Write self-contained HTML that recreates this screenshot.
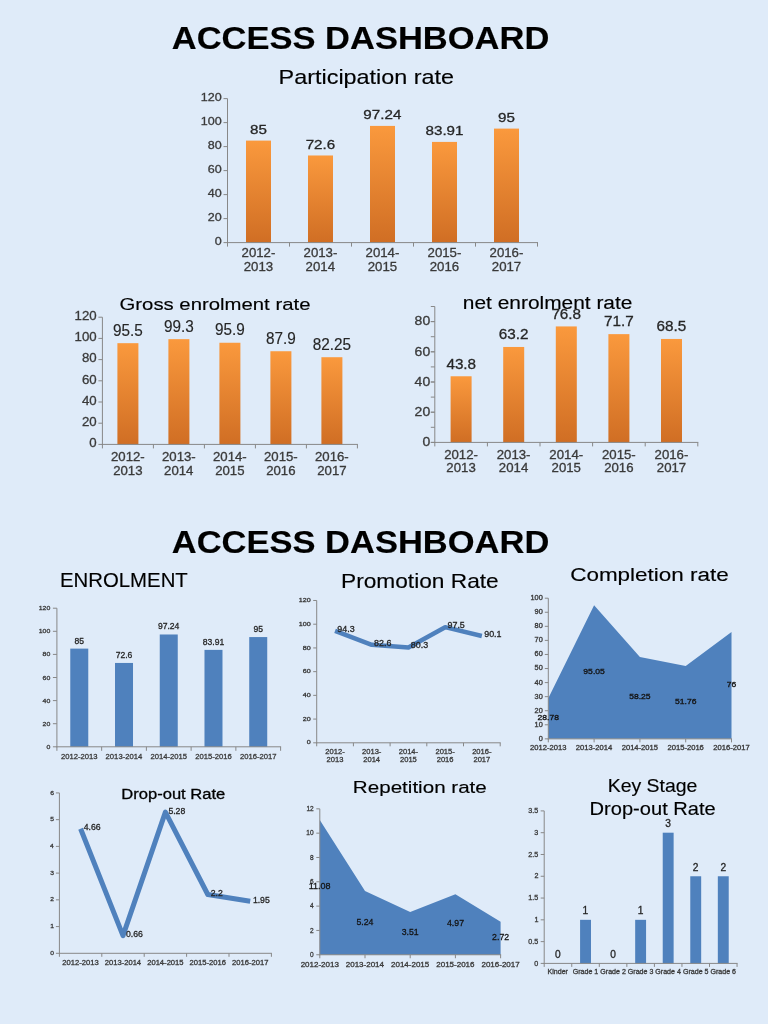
<!DOCTYPE html>
<html><head><meta charset="utf-8"><title>Access Dashboard</title>
<style>
html,body{margin:0;padding:0;}
body{width:768px;height:1024px;overflow:hidden;background:#dfebf9;font-family:"Liberation Sans", sans-serif;}
svg{position:absolute;left:0;top:0;will-change:transform;}
svg text{font-family:"Liberation Sans", sans-serif;}
</style></head><body>
<svg width="768" height="1024" viewBox="0 0 768 1024">
<defs><linearGradient id="og" x1="0" y1="0" x2="0" y2="1"><stop offset="0" stop-color="#fa993d"/><stop offset="1" stop-color="#d06e24"/></linearGradient></defs>
<text x="171.79" y="49.35" font-size="30.93" font-weight="bold" fill="#000" stroke="#000" stroke-width="0.15" textLength="377.51" lengthAdjust="spacingAndGlyphs">ACCESS DASHBOARD</text>
<text x="171.79" y="552.85" font-size="30.93" font-weight="bold" fill="#000" stroke="#000" stroke-width="0.15" textLength="377.51" lengthAdjust="spacingAndGlyphs">ACCESS DASHBOARD</text>
<text x="278.63" y="83.80" font-size="20.49" fill="#000" stroke="#000" stroke-width="0.15" textLength="175.46" lengthAdjust="spacingAndGlyphs">Participation rate</text>
<text x="119.53" y="310.00" font-size="17.15" fill="#000" stroke="#000" stroke-width="0.15" textLength="190.93" lengthAdjust="spacingAndGlyphs">Gross enrolment rate</text>
<text x="462.86" y="309.30" font-size="18.35" fill="#000" stroke="#000" stroke-width="0.15" textLength="169.52" lengthAdjust="spacingAndGlyphs">net enrolment rate</text>
<text x="59.93" y="586.70" font-size="19.77" fill="#000" stroke="#000" stroke-width="0.15" textLength="127.89" lengthAdjust="spacingAndGlyphs">ENROLMENT</text>
<text x="340.99" y="587.70" font-size="20.49" fill="#000" stroke="#000" stroke-width="0.15" textLength="157.77" lengthAdjust="spacingAndGlyphs">Promotion Rate</text>
<text x="570.21" y="580.60" font-size="18.46" fill="#000" stroke="#000" stroke-width="0.15" textLength="158.54" lengthAdjust="spacingAndGlyphs">Completion rate</text>
<text x="121.29" y="798.50" font-size="15.26" fill="#000" stroke="#000" stroke-width="0.30" textLength="103.99" lengthAdjust="spacingAndGlyphs">Drop-out Rate</text>
<text x="352.86" y="793.10" font-size="17.01" fill="#000" stroke="#000" stroke-width="0.15" textLength="133.95" lengthAdjust="spacingAndGlyphs">Repetition rate</text>
<text x="607.76" y="792.30" font-size="17.59" fill="#000" stroke="#000" stroke-width="0.15" textLength="89.66" lengthAdjust="spacingAndGlyphs">Key Stage</text>
<text x="589.60" y="814.50" font-size="17.44" fill="#000" stroke="#000" stroke-width="0.15" textLength="126.14" lengthAdjust="spacingAndGlyphs">Drop-out Rate</text>
<rect x="246.00" y="140.60" width="25.00" height="102.00" fill="url(#og)"/>
<rect x="308.00" y="155.48" width="25.00" height="87.12" fill="url(#og)"/>
<rect x="370.00" y="125.91" width="25.00" height="116.69" fill="url(#og)"/>
<rect x="432.00" y="141.91" width="25.00" height="100.69" fill="url(#og)"/>
<rect x="494.00" y="128.60" width="25.00" height="114.00" fill="url(#og)"/>
<rect x="227.00" y="98.60" width="1" height="144.50" fill="#888888"/>
<rect x="223.50" y="242.10" width="4.00" height="1" fill="#888888"/>
<text x="214.66" y="244.95" font-size="11.60" fill="#3a3a3a" stroke="#3a3a3a" stroke-width="0.30" textLength="6.98" lengthAdjust="spacingAndGlyphs">0</text>
<rect x="223.50" y="218.10" width="4.00" height="1" fill="#888888"/>
<text x="207.68" y="220.95" font-size="11.60" fill="#3a3a3a" stroke="#3a3a3a" stroke-width="0.30" textLength="13.96" lengthAdjust="spacingAndGlyphs">20</text>
<rect x="223.50" y="194.10" width="4.00" height="1" fill="#888888"/>
<text x="207.68" y="196.95" font-size="11.60" fill="#3a3a3a" stroke="#3a3a3a" stroke-width="0.30" textLength="13.96" lengthAdjust="spacingAndGlyphs">40</text>
<rect x="223.50" y="170.10" width="4.00" height="1" fill="#888888"/>
<text x="207.68" y="172.95" font-size="11.60" fill="#3a3a3a" stroke="#3a3a3a" stroke-width="0.30" textLength="13.96" lengthAdjust="spacingAndGlyphs">60</text>
<rect x="223.50" y="146.10" width="4.00" height="1" fill="#888888"/>
<text x="207.68" y="148.95" font-size="11.60" fill="#3a3a3a" stroke="#3a3a3a" stroke-width="0.30" textLength="13.96" lengthAdjust="spacingAndGlyphs">80</text>
<rect x="223.50" y="122.10" width="4.00" height="1" fill="#888888"/>
<text x="200.69" y="124.95" font-size="11.60" fill="#3a3a3a" stroke="#3a3a3a" stroke-width="0.30" textLength="20.95" lengthAdjust="spacingAndGlyphs">100</text>
<rect x="223.50" y="98.10" width="4.00" height="1" fill="#888888"/>
<text x="200.69" y="100.95" font-size="11.60" fill="#3a3a3a" stroke="#3a3a3a" stroke-width="0.30" textLength="20.95" lengthAdjust="spacingAndGlyphs">120</text>
<rect x="227.00" y="242.10" width="311.00" height="1" fill="#888888"/>
<rect x="227.00" y="242.60" width="1" height="4.00" fill="#888888"/>
<rect x="289.00" y="242.60" width="1" height="4.00" fill="#888888"/>
<rect x="351.00" y="242.60" width="1" height="4.00" fill="#888888"/>
<rect x="413.00" y="242.60" width="1" height="4.00" fill="#888888"/>
<rect x="475.00" y="242.60" width="1" height="4.00" fill="#888888"/>
<rect x="537.00" y="242.60" width="1" height="4.00" fill="#888888"/>
<text x="250.05" y="133.75" font-size="12.89" fill="#262626" stroke="#262626" stroke-width="0.30" textLength="16.87" lengthAdjust="spacingAndGlyphs">85</text>
<text x="241.53" y="256.95" font-size="12.32" fill="#3a3a3a" stroke="#3a3a3a" stroke-width="0.30" textLength="33.86" lengthAdjust="spacingAndGlyphs">2012-</text>
<text x="243.73" y="271.25" font-size="12.32" fill="#3a3a3a" stroke="#3a3a3a" stroke-width="0.30" textLength="29.45" lengthAdjust="spacingAndGlyphs">2013</text>
<text x="305.68" y="148.63" font-size="12.89" fill="#262626" stroke="#262626" stroke-width="0.30" textLength="29.52" lengthAdjust="spacingAndGlyphs">72.6</text>
<text x="303.53" y="256.95" font-size="12.32" fill="#3a3a3a" stroke="#3a3a3a" stroke-width="0.30" textLength="33.86" lengthAdjust="spacingAndGlyphs">2013-</text>
<text x="305.64" y="271.25" font-size="12.32" fill="#3a3a3a" stroke="#3a3a3a" stroke-width="0.30" textLength="29.45" lengthAdjust="spacingAndGlyphs">2014</text>
<text x="363.39" y="119.06" font-size="12.89" fill="#262626" stroke="#262626" stroke-width="0.30" textLength="37.96" lengthAdjust="spacingAndGlyphs">97.24</text>
<text x="365.53" y="256.95" font-size="12.32" fill="#3a3a3a" stroke="#3a3a3a" stroke-width="0.30" textLength="33.86" lengthAdjust="spacingAndGlyphs">2014-</text>
<text x="367.72" y="271.25" font-size="12.32" fill="#3a3a3a" stroke="#3a3a3a" stroke-width="0.30" textLength="29.45" lengthAdjust="spacingAndGlyphs">2015</text>
<text x="425.56" y="135.06" font-size="12.89" fill="#262626" stroke="#262626" stroke-width="0.30" textLength="37.96" lengthAdjust="spacingAndGlyphs">83.91</text>
<text x="427.53" y="256.95" font-size="12.32" fill="#3a3a3a" stroke="#3a3a3a" stroke-width="0.30" textLength="33.86" lengthAdjust="spacingAndGlyphs">2015-</text>
<text x="429.73" y="271.25" font-size="12.32" fill="#3a3a3a" stroke="#3a3a3a" stroke-width="0.30" textLength="29.45" lengthAdjust="spacingAndGlyphs">2016</text>
<text x="498.03" y="121.75" font-size="12.89" fill="#262626" stroke="#262626" stroke-width="0.30" textLength="16.87" lengthAdjust="spacingAndGlyphs">95</text>
<text x="489.53" y="256.95" font-size="12.32" fill="#3a3a3a" stroke="#3a3a3a" stroke-width="0.30" textLength="33.86" lengthAdjust="spacingAndGlyphs">2016-</text>
<text x="491.78" y="271.25" font-size="12.32" fill="#3a3a3a" stroke="#3a3a3a" stroke-width="0.30" textLength="29.45" lengthAdjust="spacingAndGlyphs">2017</text>
<rect x="117.40" y="343.17" width="21.00" height="101.23" fill="url(#og)"/>
<rect x="168.40" y="339.14" width="21.00" height="105.26" fill="url(#og)"/>
<rect x="219.40" y="342.75" width="21.00" height="101.65" fill="url(#og)"/>
<rect x="270.40" y="351.23" width="21.00" height="93.17" fill="url(#og)"/>
<rect x="321.40" y="357.21" width="21.00" height="87.19" fill="url(#og)"/>
<rect x="101.90" y="317.20" width="1" height="127.70" fill="#888888"/>
<rect x="98.40" y="443.90" width="4.00" height="1" fill="#888888"/>
<text x="89.29" y="447.25" font-size="12.75" fill="#3a3a3a" stroke="#3a3a3a" stroke-width="0.30" textLength="7.38" lengthAdjust="spacingAndGlyphs">0</text>
<rect x="98.40" y="422.70" width="4.00" height="1" fill="#888888"/>
<text x="81.92" y="426.05" font-size="12.75" fill="#3a3a3a" stroke="#3a3a3a" stroke-width="0.30" textLength="14.75" lengthAdjust="spacingAndGlyphs">20</text>
<rect x="98.40" y="401.50" width="4.00" height="1" fill="#888888"/>
<text x="81.92" y="404.85" font-size="12.75" fill="#3a3a3a" stroke="#3a3a3a" stroke-width="0.30" textLength="14.75" lengthAdjust="spacingAndGlyphs">40</text>
<rect x="98.40" y="380.30" width="4.00" height="1" fill="#888888"/>
<text x="81.92" y="383.65" font-size="12.75" fill="#3a3a3a" stroke="#3a3a3a" stroke-width="0.30" textLength="14.75" lengthAdjust="spacingAndGlyphs">60</text>
<rect x="98.40" y="359.10" width="4.00" height="1" fill="#888888"/>
<text x="81.92" y="362.45" font-size="12.75" fill="#3a3a3a" stroke="#3a3a3a" stroke-width="0.30" textLength="14.75" lengthAdjust="spacingAndGlyphs">80</text>
<rect x="98.40" y="337.90" width="4.00" height="1" fill="#888888"/>
<text x="74.54" y="341.25" font-size="12.75" fill="#3a3a3a" stroke="#3a3a3a" stroke-width="0.30" textLength="22.13" lengthAdjust="spacingAndGlyphs">100</text>
<rect x="98.40" y="316.70" width="4.00" height="1" fill="#888888"/>
<text x="74.54" y="320.05" font-size="12.75" fill="#3a3a3a" stroke="#3a3a3a" stroke-width="0.30" textLength="22.13" lengthAdjust="spacingAndGlyphs">120</text>
<rect x="101.90" y="443.90" width="256.00" height="1" fill="#888888"/>
<rect x="101.90" y="444.40" width="1" height="4.00" fill="#888888"/>
<rect x="152.90" y="444.40" width="1" height="4.00" fill="#888888"/>
<rect x="203.90" y="444.40" width="1" height="4.00" fill="#888888"/>
<rect x="254.90" y="444.40" width="1" height="4.00" fill="#888888"/>
<rect x="305.90" y="444.40" width="1" height="4.00" fill="#888888"/>
<rect x="356.90" y="444.40" width="1" height="4.00" fill="#888888"/>
<text x="112.97" y="335.72" font-size="16.33" fill="#262626" stroke="#262626" stroke-width="0.15" textLength="29.79" lengthAdjust="spacingAndGlyphs">95.5</text>
<text x="110.99" y="460.65" font-size="12.03" fill="#3a3a3a" stroke="#3a3a3a" stroke-width="0.30" textLength="33.74" lengthAdjust="spacingAndGlyphs">2012-</text>
<text x="113.19" y="474.55" font-size="12.03" fill="#3a3a3a" stroke="#3a3a3a" stroke-width="0.30" textLength="29.34" lengthAdjust="spacingAndGlyphs">2013</text>
<text x="163.98" y="331.69" font-size="16.33" fill="#262626" stroke="#262626" stroke-width="0.15" textLength="29.79" lengthAdjust="spacingAndGlyphs">99.3</text>
<text x="161.99" y="460.65" font-size="12.03" fill="#3a3a3a" stroke="#3a3a3a" stroke-width="0.30" textLength="33.74" lengthAdjust="spacingAndGlyphs">2013-</text>
<text x="164.09" y="474.55" font-size="12.03" fill="#3a3a3a" stroke="#3a3a3a" stroke-width="0.30" textLength="29.34" lengthAdjust="spacingAndGlyphs">2014</text>
<text x="215.01" y="335.30" font-size="16.33" fill="#262626" stroke="#262626" stroke-width="0.15" textLength="29.79" lengthAdjust="spacingAndGlyphs">95.9</text>
<text x="212.99" y="460.65" font-size="12.03" fill="#3a3a3a" stroke="#3a3a3a" stroke-width="0.30" textLength="33.74" lengthAdjust="spacingAndGlyphs">2014-</text>
<text x="215.17" y="474.55" font-size="12.03" fill="#3a3a3a" stroke="#3a3a3a" stroke-width="0.30" textLength="29.34" lengthAdjust="spacingAndGlyphs">2015</text>
<text x="266.03" y="343.78" font-size="16.33" fill="#262626" stroke="#262626" stroke-width="0.15" textLength="29.79" lengthAdjust="spacingAndGlyphs">87.9</text>
<text x="263.99" y="460.65" font-size="12.03" fill="#3a3a3a" stroke="#3a3a3a" stroke-width="0.30" textLength="33.74" lengthAdjust="spacingAndGlyphs">2015-</text>
<text x="266.19" y="474.55" font-size="12.03" fill="#3a3a3a" stroke="#3a3a3a" stroke-width="0.30" textLength="29.34" lengthAdjust="spacingAndGlyphs">2016</text>
<text x="312.73" y="349.76" font-size="16.33" fill="#262626" stroke="#262626" stroke-width="0.15" textLength="38.31" lengthAdjust="spacingAndGlyphs">82.25</text>
<text x="314.99" y="460.65" font-size="12.03" fill="#3a3a3a" stroke="#3a3a3a" stroke-width="0.30" textLength="33.74" lengthAdjust="spacingAndGlyphs">2016-</text>
<text x="317.23" y="474.55" font-size="12.03" fill="#3a3a3a" stroke="#3a3a3a" stroke-width="0.30" textLength="29.34" lengthAdjust="spacingAndGlyphs">2017</text>
<rect x="450.60" y="376.26" width="21.00" height="66.14" fill="url(#og)"/>
<rect x="503.20" y="346.97" width="21.00" height="95.43" fill="url(#og)"/>
<rect x="555.80" y="326.43" width="21.00" height="115.97" fill="url(#og)"/>
<rect x="608.40" y="334.13" width="21.00" height="108.27" fill="url(#og)"/>
<rect x="661.00" y="338.96" width="21.00" height="103.44" fill="url(#og)"/>
<rect x="434.30" y="306.50" width="1" height="136.40" fill="#888888"/>
<rect x="430.80" y="441.90" width="4.00" height="1" fill="#888888"/>
<text x="422.42" y="446.15" font-size="12.60" fill="#3a3a3a" stroke="#3a3a3a" stroke-width="0.30" textLength="7.78" lengthAdjust="spacingAndGlyphs">0</text>
<rect x="430.80" y="411.70" width="4.00" height="1" fill="#888888"/>
<text x="414.64" y="415.95" font-size="12.60" fill="#3a3a3a" stroke="#3a3a3a" stroke-width="0.30" textLength="15.55" lengthAdjust="spacingAndGlyphs">20</text>
<rect x="430.80" y="381.50" width="4.00" height="1" fill="#888888"/>
<text x="414.64" y="385.75" font-size="12.60" fill="#3a3a3a" stroke="#3a3a3a" stroke-width="0.30" textLength="15.55" lengthAdjust="spacingAndGlyphs">40</text>
<rect x="430.80" y="351.30" width="4.00" height="1" fill="#888888"/>
<text x="414.64" y="355.55" font-size="12.60" fill="#3a3a3a" stroke="#3a3a3a" stroke-width="0.30" textLength="15.55" lengthAdjust="spacingAndGlyphs">60</text>
<rect x="430.80" y="321.10" width="4.00" height="1" fill="#888888"/>
<text x="414.64" y="325.35" font-size="12.60" fill="#3a3a3a" stroke="#3a3a3a" stroke-width="0.30" textLength="15.55" lengthAdjust="spacingAndGlyphs">80</text>
<rect x="430.80" y="441.90" width="4.00" height="1" fill="#888888"/>
<rect x="430.80" y="426.80" width="4.00" height="1" fill="#888888"/>
<rect x="430.80" y="411.70" width="4.00" height="1" fill="#888888"/>
<rect x="430.80" y="396.60" width="4.00" height="1" fill="#888888"/>
<rect x="430.80" y="381.50" width="4.00" height="1" fill="#888888"/>
<rect x="430.80" y="366.40" width="4.00" height="1" fill="#888888"/>
<rect x="430.80" y="351.30" width="4.00" height="1" fill="#888888"/>
<rect x="430.80" y="336.20" width="4.00" height="1" fill="#888888"/>
<rect x="430.80" y="321.10" width="4.00" height="1" fill="#888888"/>
<rect x="430.80" y="306.00" width="4.00" height="1" fill="#888888"/>
<rect x="434.30" y="441.90" width="264.00" height="1" fill="#888888"/>
<rect x="434.30" y="442.40" width="1" height="4.00" fill="#888888"/>
<rect x="486.90" y="442.40" width="1" height="4.00" fill="#888888"/>
<rect x="539.50" y="442.40" width="1" height="4.00" fill="#888888"/>
<rect x="592.10" y="442.40" width="1" height="4.00" fill="#888888"/>
<rect x="644.70" y="442.40" width="1" height="4.00" fill="#888888"/>
<rect x="697.30" y="442.40" width="1" height="4.00" fill="#888888"/>
<text x="446.40" y="368.61" font-size="15.18" fill="#262626" stroke="#262626" stroke-width="0.30" textLength="29.71" lengthAdjust="spacingAndGlyphs">43.8</text>
<text x="444.19" y="458.65" font-size="12.03" fill="#3a3a3a" stroke="#3a3a3a" stroke-width="0.30" textLength="33.74" lengthAdjust="spacingAndGlyphs">2012-</text>
<text x="446.39" y="472.15" font-size="12.03" fill="#3a3a3a" stroke="#3a3a3a" stroke-width="0.30" textLength="29.34" lengthAdjust="spacingAndGlyphs">2013</text>
<text x="498.84" y="339.32" font-size="15.18" fill="#262626" stroke="#262626" stroke-width="0.30" textLength="29.71" lengthAdjust="spacingAndGlyphs">63.2</text>
<text x="496.79" y="458.65" font-size="12.03" fill="#3a3a3a" stroke="#3a3a3a" stroke-width="0.30" textLength="33.74" lengthAdjust="spacingAndGlyphs">2013-</text>
<text x="498.89" y="472.15" font-size="12.03" fill="#3a3a3a" stroke="#3a3a3a" stroke-width="0.30" textLength="29.34" lengthAdjust="spacingAndGlyphs">2014</text>
<text x="551.38" y="318.78" font-size="15.18" fill="#262626" stroke="#262626" stroke-width="0.30" textLength="29.71" lengthAdjust="spacingAndGlyphs">76.8</text>
<text x="549.39" y="458.65" font-size="12.03" fill="#3a3a3a" stroke="#3a3a3a" stroke-width="0.30" textLength="33.74" lengthAdjust="spacingAndGlyphs">2014-</text>
<text x="551.57" y="472.15" font-size="12.03" fill="#3a3a3a" stroke="#3a3a3a" stroke-width="0.30" textLength="29.34" lengthAdjust="spacingAndGlyphs">2015</text>
<text x="604.04" y="326.48" font-size="15.18" fill="#262626" stroke="#262626" stroke-width="0.30" textLength="29.71" lengthAdjust="spacingAndGlyphs">71.7</text>
<text x="601.99" y="458.65" font-size="12.03" fill="#3a3a3a" stroke="#3a3a3a" stroke-width="0.30" textLength="33.74" lengthAdjust="spacingAndGlyphs">2015-</text>
<text x="604.19" y="472.15" font-size="12.03" fill="#3a3a3a" stroke="#3a3a3a" stroke-width="0.30" textLength="29.34" lengthAdjust="spacingAndGlyphs">2016</text>
<text x="656.58" y="331.31" font-size="15.18" fill="#262626" stroke="#262626" stroke-width="0.30" textLength="29.71" lengthAdjust="spacingAndGlyphs">68.5</text>
<text x="654.59" y="458.65" font-size="12.03" fill="#3a3a3a" stroke="#3a3a3a" stroke-width="0.30" textLength="33.74" lengthAdjust="spacingAndGlyphs">2016-</text>
<text x="656.83" y="472.15" font-size="12.03" fill="#3a3a3a" stroke="#3a3a3a" stroke-width="0.30" textLength="29.34" lengthAdjust="spacingAndGlyphs">2017</text>
<rect x="70.27" y="648.62" width="18.00" height="98.17" fill="#4f81bd"/>
<rect x="115.01" y="662.95" width="18.00" height="83.85" fill="#4f81bd"/>
<rect x="159.75" y="634.49" width="18.00" height="112.31" fill="#4f81bd"/>
<rect x="204.49" y="649.88" width="18.00" height="96.92" fill="#4f81bd"/>
<rect x="249.23" y="637.07" width="18.00" height="109.73" fill="#4f81bd"/>
<rect x="56.40" y="608.20" width="1" height="139.10" fill="#888888"/>
<rect x="52.90" y="746.30" width="4.00" height="1" fill="#888888"/>
<text x="46.45" y="748.85" font-size="6.02" fill="#3a3a3a" stroke="#3a3a3a" stroke-width="0.30" textLength="3.87" lengthAdjust="spacingAndGlyphs">0</text>
<rect x="52.90" y="723.20" width="4.00" height="1" fill="#888888"/>
<text x="42.59" y="725.75" font-size="6.02" fill="#3a3a3a" stroke="#3a3a3a" stroke-width="0.30" textLength="7.73" lengthAdjust="spacingAndGlyphs">20</text>
<rect x="52.90" y="700.10" width="4.00" height="1" fill="#888888"/>
<text x="42.59" y="702.65" font-size="6.02" fill="#3a3a3a" stroke="#3a3a3a" stroke-width="0.30" textLength="7.73" lengthAdjust="spacingAndGlyphs">40</text>
<rect x="52.90" y="677.00" width="4.00" height="1" fill="#888888"/>
<text x="42.59" y="679.55" font-size="6.02" fill="#3a3a3a" stroke="#3a3a3a" stroke-width="0.30" textLength="7.73" lengthAdjust="spacingAndGlyphs">60</text>
<rect x="52.90" y="653.90" width="4.00" height="1" fill="#888888"/>
<text x="42.59" y="656.45" font-size="6.02" fill="#3a3a3a" stroke="#3a3a3a" stroke-width="0.30" textLength="7.73" lengthAdjust="spacingAndGlyphs">80</text>
<rect x="52.90" y="630.80" width="4.00" height="1" fill="#888888"/>
<text x="38.72" y="633.35" font-size="6.02" fill="#3a3a3a" stroke="#3a3a3a" stroke-width="0.30" textLength="11.60" lengthAdjust="spacingAndGlyphs">100</text>
<rect x="52.90" y="607.70" width="4.00" height="1" fill="#888888"/>
<text x="38.72" y="610.25" font-size="6.02" fill="#3a3a3a" stroke="#3a3a3a" stroke-width="0.30" textLength="11.60" lengthAdjust="spacingAndGlyphs">120</text>
<rect x="56.40" y="746.30" width="224.70" height="1" fill="#888888"/>
<rect x="56.40" y="746.80" width="1" height="4.00" fill="#888888"/>
<rect x="101.14" y="746.80" width="1" height="4.00" fill="#888888"/>
<rect x="145.88" y="746.80" width="1" height="4.00" fill="#888888"/>
<rect x="190.62" y="746.80" width="1" height="4.00" fill="#888888"/>
<rect x="235.36" y="746.80" width="1" height="4.00" fill="#888888"/>
<rect x="280.10" y="746.80" width="1" height="4.00" fill="#888888"/>
<text x="74.50" y="643.62" font-size="9.31" fill="#262626" stroke="#262626" stroke-width="0.30" textLength="9.54" lengthAdjust="spacingAndGlyphs">85</text>
<text x="60.93" y="758.55" font-size="8.02" fill="#3a3a3a" stroke="#3a3a3a" stroke-width="0.30" textLength="36.62" lengthAdjust="spacingAndGlyphs">2012-2013</text>
<text x="115.64" y="657.95" font-size="9.31" fill="#262626" stroke="#262626" stroke-width="0.30" textLength="16.69" lengthAdjust="spacingAndGlyphs">72.6</text>
<text x="105.62" y="758.55" font-size="8.02" fill="#3a3a3a" stroke="#3a3a3a" stroke-width="0.30" textLength="36.62" lengthAdjust="spacingAndGlyphs">2013-2014</text>
<text x="157.95" y="629.49" font-size="9.31" fill="#262626" stroke="#262626" stroke-width="0.30" textLength="21.45" lengthAdjust="spacingAndGlyphs">97.24</text>
<text x="150.41" y="758.55" font-size="8.02" fill="#3a3a3a" stroke="#3a3a3a" stroke-width="0.30" textLength="36.62" lengthAdjust="spacingAndGlyphs">2014-2015</text>
<text x="202.79" y="644.88" font-size="9.31" fill="#262626" stroke="#262626" stroke-width="0.30" textLength="21.45" lengthAdjust="spacingAndGlyphs">83.91</text>
<text x="195.15" y="758.55" font-size="8.02" fill="#3a3a3a" stroke="#3a3a3a" stroke-width="0.30" textLength="36.62" lengthAdjust="spacingAndGlyphs">2015-2016</text>
<text x="253.44" y="632.07" font-size="9.31" fill="#262626" stroke="#262626" stroke-width="0.30" textLength="9.54" lengthAdjust="spacingAndGlyphs">95</text>
<text x="239.92" y="758.55" font-size="8.02" fill="#3a3a3a" stroke="#3a3a3a" stroke-width="0.30" textLength="36.62" lengthAdjust="spacingAndGlyphs">2016-2017</text>
<rect x="580.08" y="919.83" width="10.90" height="43.57" fill="#4f81bd"/>
<rect x="635.17" y="919.83" width="10.90" height="43.57" fill="#4f81bd"/>
<rect x="662.73" y="832.69" width="10.90" height="130.71" fill="#4f81bd"/>
<rect x="690.27" y="876.26" width="10.90" height="87.14" fill="#4f81bd"/>
<rect x="717.83" y="876.26" width="10.90" height="87.14" fill="#4f81bd"/>
<rect x="543.70" y="810.90" width="1" height="153.00" fill="#888888"/>
<rect x="540.70" y="962.90" width="3.50" height="1" fill="#888888"/>
<text x="534.34" y="965.55" font-size="7.02" fill="#3a3a3a" stroke="#3a3a3a" stroke-width="0.30" textLength="3.99" lengthAdjust="spacingAndGlyphs">0</text>
<rect x="540.70" y="941.12" width="3.50" height="1" fill="#888888"/>
<text x="528.38" y="943.76" font-size="7.02" fill="#3a3a3a" stroke="#3a3a3a" stroke-width="0.30" textLength="9.97" lengthAdjust="spacingAndGlyphs">0.5</text>
<rect x="540.70" y="919.33" width="3.50" height="1" fill="#888888"/>
<text x="534.41" y="921.98" font-size="7.02" fill="#3a3a3a" stroke="#3a3a3a" stroke-width="0.30" textLength="3.99" lengthAdjust="spacingAndGlyphs">1</text>
<rect x="540.70" y="897.54" width="3.50" height="1" fill="#888888"/>
<text x="528.38" y="900.19" font-size="7.02" fill="#3a3a3a" stroke="#3a3a3a" stroke-width="0.30" textLength="9.97" lengthAdjust="spacingAndGlyphs">1.5</text>
<rect x="540.70" y="875.76" width="3.50" height="1" fill="#888888"/>
<text x="534.42" y="878.41" font-size="7.02" fill="#3a3a3a" stroke="#3a3a3a" stroke-width="0.30" textLength="3.99" lengthAdjust="spacingAndGlyphs">2</text>
<rect x="540.70" y="853.98" width="3.50" height="1" fill="#888888"/>
<text x="528.38" y="856.62" font-size="7.02" fill="#3a3a3a" stroke="#3a3a3a" stroke-width="0.30" textLength="9.97" lengthAdjust="spacingAndGlyphs">2.5</text>
<rect x="540.70" y="832.19" width="3.50" height="1" fill="#888888"/>
<text x="534.37" y="834.84" font-size="7.02" fill="#3a3a3a" stroke="#3a3a3a" stroke-width="0.30" textLength="3.99" lengthAdjust="spacingAndGlyphs">3</text>
<rect x="540.70" y="810.40" width="3.50" height="1" fill="#888888"/>
<text x="528.38" y="813.05" font-size="7.02" fill="#3a3a3a" stroke="#3a3a3a" stroke-width="0.30" textLength="9.97" lengthAdjust="spacingAndGlyphs">3.5</text>
<rect x="543.70" y="962.90" width="193.85" height="1" fill="#888888"/>
<rect x="543.70" y="963.40" width="1" height="3.50" fill="#888888"/>
<rect x="571.25" y="963.40" width="1" height="3.50" fill="#888888"/>
<rect x="598.80" y="963.40" width="1" height="3.50" fill="#888888"/>
<rect x="626.35" y="963.40" width="1" height="3.50" fill="#888888"/>
<rect x="653.90" y="963.40" width="1" height="3.50" fill="#888888"/>
<rect x="681.45" y="963.40" width="1" height="3.50" fill="#888888"/>
<rect x="709.00" y="963.40" width="1" height="3.50" fill="#888888"/>
<rect x="736.55" y="963.40" width="1" height="3.50" fill="#888888"/>
<text x="555.14" y="957.90" font-size="10.17" fill="#262626" stroke="#262626" stroke-width="0.30" textLength="5.68" lengthAdjust="spacingAndGlyphs">0</text>
<text x="547.54" y="974.45" font-size="6.76" fill="#3a3a3a" stroke="#3a3a3a" stroke-width="0.30" textLength="20.40" lengthAdjust="spacingAndGlyphs">Kinder</text>
<text x="582.55" y="914.33" font-size="10.17" fill="#262626" stroke="#262626" stroke-width="0.30" textLength="5.68" lengthAdjust="spacingAndGlyphs">1</text>
<text x="572.77" y="974.45" font-size="6.76" fill="#3a3a3a" stroke="#3a3a3a" stroke-width="0.30" textLength="25.50" lengthAdjust="spacingAndGlyphs">Grade 1</text>
<text x="610.24" y="957.90" font-size="10.17" fill="#262626" stroke="#262626" stroke-width="0.30" textLength="5.68" lengthAdjust="spacingAndGlyphs">0</text>
<text x="600.33" y="974.45" font-size="6.76" fill="#3a3a3a" stroke="#3a3a3a" stroke-width="0.30" textLength="25.50" lengthAdjust="spacingAndGlyphs">Grade 2</text>
<text x="637.65" y="914.33" font-size="10.17" fill="#262626" stroke="#262626" stroke-width="0.30" textLength="5.68" lengthAdjust="spacingAndGlyphs">1</text>
<text x="627.85" y="974.45" font-size="6.76" fill="#3a3a3a" stroke="#3a3a3a" stroke-width="0.30" textLength="25.50" lengthAdjust="spacingAndGlyphs">Grade 3</text>
<text x="665.37" y="827.19" font-size="10.17" fill="#262626" stroke="#262626" stroke-width="0.30" textLength="5.68" lengthAdjust="spacingAndGlyphs">3</text>
<text x="655.35" y="974.45" font-size="6.76" fill="#3a3a3a" stroke="#3a3a3a" stroke-width="0.30" textLength="25.50" lengthAdjust="spacingAndGlyphs">Grade 4</text>
<text x="692.89" y="870.76" font-size="10.17" fill="#262626" stroke="#262626" stroke-width="0.30" textLength="5.68" lengthAdjust="spacingAndGlyphs">2</text>
<text x="682.95" y="974.45" font-size="6.76" fill="#3a3a3a" stroke="#3a3a3a" stroke-width="0.30" textLength="25.50" lengthAdjust="spacingAndGlyphs">Grade 5</text>
<text x="720.44" y="870.76" font-size="10.17" fill="#262626" stroke="#262626" stroke-width="0.30" textLength="5.68" lengthAdjust="spacingAndGlyphs">2</text>
<text x="710.50" y="974.45" font-size="6.76" fill="#3a3a3a" stroke="#3a3a3a" stroke-width="0.30" textLength="25.50" lengthAdjust="spacingAndGlyphs">Grade 6</text>
<rect x="316.20" y="600.48" width="1" height="142.82" fill="#888888"/>
<rect x="313.20" y="742.30" width="3.50" height="1" fill="#888888"/>
<text x="306.65" y="744.45" font-size="5.59" fill="#3a3a3a" stroke="#3a3a3a" stroke-width="0.30" textLength="3.97" lengthAdjust="spacingAndGlyphs">0</text>
<rect x="313.20" y="718.58" width="3.50" height="1" fill="#888888"/>
<text x="302.68" y="720.73" font-size="5.59" fill="#3a3a3a" stroke="#3a3a3a" stroke-width="0.30" textLength="7.95" lengthAdjust="spacingAndGlyphs">20</text>
<rect x="313.20" y="694.86" width="3.50" height="1" fill="#888888"/>
<text x="302.68" y="697.01" font-size="5.59" fill="#3a3a3a" stroke="#3a3a3a" stroke-width="0.30" textLength="7.95" lengthAdjust="spacingAndGlyphs">40</text>
<rect x="313.20" y="671.14" width="3.50" height="1" fill="#888888"/>
<text x="302.68" y="673.29" font-size="5.59" fill="#3a3a3a" stroke="#3a3a3a" stroke-width="0.30" textLength="7.95" lengthAdjust="spacingAndGlyphs">60</text>
<rect x="313.20" y="647.42" width="3.50" height="1" fill="#888888"/>
<text x="302.68" y="649.57" font-size="5.59" fill="#3a3a3a" stroke="#3a3a3a" stroke-width="0.30" textLength="7.95" lengthAdjust="spacingAndGlyphs">80</text>
<rect x="313.20" y="623.70" width="3.50" height="1" fill="#888888"/>
<text x="298.71" y="625.85" font-size="5.59" fill="#3a3a3a" stroke="#3a3a3a" stroke-width="0.30" textLength="11.92" lengthAdjust="spacingAndGlyphs">100</text>
<rect x="313.20" y="599.98" width="3.50" height="1" fill="#888888"/>
<text x="298.71" y="602.13" font-size="5.59" fill="#3a3a3a" stroke="#3a3a3a" stroke-width="0.30" textLength="11.92" lengthAdjust="spacingAndGlyphs">120</text>
<rect x="316.20" y="742.30" width="184.50" height="1" fill="#888888"/>
<rect x="316.20" y="742.80" width="1" height="3.50" fill="#888888"/>
<rect x="352.90" y="742.80" width="1" height="3.50" fill="#888888"/>
<rect x="389.60" y="742.80" width="1" height="3.50" fill="#888888"/>
<rect x="426.30" y="742.80" width="1" height="3.50" fill="#888888"/>
<rect x="463.00" y="742.80" width="1" height="3.50" fill="#888888"/>
<rect x="499.70" y="742.80" width="1" height="3.50" fill="#888888"/>
<polyline points="335.05,630.96 371.75,644.84 408.45,647.56 445.15,627.16 481.85,635.94" fill="none" stroke="#4f81bd" stroke-width="4.5" stroke-linejoin="round" stroke-linecap="butt"/>
<text x="337.38" y="631.81" font-size="8.59" fill="#262626" stroke="#262626" stroke-width="0.30" textLength="17.36" lengthAdjust="spacingAndGlyphs">94.3</text>
<text x="325.36" y="754.25" font-size="7.02" fill="#3a3a3a" stroke="#3a3a3a" stroke-width="0.30" textLength="19.33" lengthAdjust="spacingAndGlyphs">2012-</text>
<text x="326.62" y="762.25" font-size="7.02" fill="#3a3a3a" stroke="#3a3a3a" stroke-width="0.30" textLength="16.81" lengthAdjust="spacingAndGlyphs">2013</text>
<text x="374.11" y="645.69" font-size="8.59" fill="#262626" stroke="#262626" stroke-width="0.30" textLength="17.36" lengthAdjust="spacingAndGlyphs">82.6</text>
<text x="362.06" y="754.25" font-size="7.02" fill="#3a3a3a" stroke="#3a3a3a" stroke-width="0.30" textLength="19.33" lengthAdjust="spacingAndGlyphs">2013-</text>
<text x="363.26" y="762.25" font-size="7.02" fill="#3a3a3a" stroke="#3a3a3a" stroke-width="0.30" textLength="16.81" lengthAdjust="spacingAndGlyphs">2014</text>
<text x="410.81" y="648.41" font-size="8.59" fill="#262626" stroke="#262626" stroke-width="0.30" textLength="17.36" lengthAdjust="spacingAndGlyphs">80.3</text>
<text x="398.76" y="754.25" font-size="7.02" fill="#3a3a3a" stroke="#3a3a3a" stroke-width="0.30" textLength="19.33" lengthAdjust="spacingAndGlyphs">2014-</text>
<text x="400.01" y="762.25" font-size="7.02" fill="#3a3a3a" stroke="#3a3a3a" stroke-width="0.30" textLength="16.81" lengthAdjust="spacingAndGlyphs">2015</text>
<text x="447.48" y="628.01" font-size="8.59" fill="#262626" stroke="#262626" stroke-width="0.30" textLength="17.36" lengthAdjust="spacingAndGlyphs">97.5</text>
<text x="435.46" y="754.25" font-size="7.02" fill="#3a3a3a" stroke="#3a3a3a" stroke-width="0.30" textLength="19.33" lengthAdjust="spacingAndGlyphs">2015-</text>
<text x="436.72" y="762.25" font-size="7.02" fill="#3a3a3a" stroke="#3a3a3a" stroke-width="0.30" textLength="16.81" lengthAdjust="spacingAndGlyphs">2016</text>
<text x="484.18" y="636.79" font-size="8.59" fill="#262626" stroke="#262626" stroke-width="0.30" textLength="17.36" lengthAdjust="spacingAndGlyphs">90.1</text>
<text x="472.16" y="754.25" font-size="7.02" fill="#3a3a3a" stroke="#3a3a3a" stroke-width="0.30" textLength="19.33" lengthAdjust="spacingAndGlyphs">2016-</text>
<text x="473.44" y="762.25" font-size="7.02" fill="#3a3a3a" stroke="#3a3a3a" stroke-width="0.30" textLength="16.81" lengthAdjust="spacingAndGlyphs">2017</text>
<rect x="58.90" y="792.92" width="1" height="160.88" fill="#888888"/>
<rect x="55.90" y="952.80" width="3.50" height="1" fill="#888888"/>
<text x="50.18" y="954.95" font-size="6.16" fill="#3a3a3a" stroke="#3a3a3a" stroke-width="0.30" textLength="3.74" lengthAdjust="spacingAndGlyphs">0</text>
<rect x="55.90" y="926.07" width="3.50" height="1" fill="#888888"/>
<text x="50.24" y="928.22" font-size="6.16" fill="#3a3a3a" stroke="#3a3a3a" stroke-width="0.30" textLength="3.74" lengthAdjust="spacingAndGlyphs">1</text>
<rect x="55.90" y="899.34" width="3.50" height="1" fill="#888888"/>
<text x="50.25" y="901.49" font-size="6.16" fill="#3a3a3a" stroke="#3a3a3a" stroke-width="0.30" textLength="3.74" lengthAdjust="spacingAndGlyphs">2</text>
<rect x="55.90" y="872.61" width="3.50" height="1" fill="#888888"/>
<text x="50.21" y="874.76" font-size="6.16" fill="#3a3a3a" stroke="#3a3a3a" stroke-width="0.30" textLength="3.74" lengthAdjust="spacingAndGlyphs">3</text>
<rect x="55.90" y="845.88" width="3.50" height="1" fill="#888888"/>
<text x="50.11" y="848.03" font-size="6.16" fill="#3a3a3a" stroke="#3a3a3a" stroke-width="0.30" textLength="3.74" lengthAdjust="spacingAndGlyphs">4</text>
<rect x="55.90" y="819.15" width="3.50" height="1" fill="#888888"/>
<text x="50.20" y="821.30" font-size="6.16" fill="#3a3a3a" stroke="#3a3a3a" stroke-width="0.30" textLength="3.74" lengthAdjust="spacingAndGlyphs">5</text>
<rect x="55.90" y="792.42" width="3.50" height="1" fill="#888888"/>
<text x="50.21" y="794.57" font-size="6.16" fill="#3a3a3a" stroke="#3a3a3a" stroke-width="0.30" textLength="3.74" lengthAdjust="spacingAndGlyphs">6</text>
<rect x="58.90" y="952.80" width="213.00" height="1" fill="#888888"/>
<rect x="58.90" y="953.30" width="1" height="3.50" fill="#888888"/>
<rect x="101.30" y="953.30" width="1" height="3.50" fill="#888888"/>
<rect x="143.70" y="953.30" width="1" height="3.50" fill="#888888"/>
<rect x="186.10" y="953.30" width="1" height="3.50" fill="#888888"/>
<rect x="228.50" y="953.30" width="1" height="3.50" fill="#888888"/>
<rect x="270.90" y="953.30" width="1" height="3.50" fill="#888888"/>
<polyline points="80.60,828.74 123.00,935.66 165.40,812.17 207.80,894.49 250.20,901.18" fill="none" stroke="#4f81bd" stroke-width="5" stroke-linejoin="round" stroke-linecap="butt"/>
<text x="83.75" y="830.29" font-size="8.74" fill="#262626" stroke="#262626" stroke-width="0.30" textLength="16.88" lengthAdjust="spacingAndGlyphs">4.66</text>
<text x="62.39" y="964.55" font-size="6.87" fill="#3a3a3a" stroke="#3a3a3a" stroke-width="0.30" textLength="36.37" lengthAdjust="spacingAndGlyphs">2012-2013</text>
<text x="126.01" y="937.21" font-size="8.74" fill="#262626" stroke="#262626" stroke-width="0.30" textLength="16.88" lengthAdjust="spacingAndGlyphs">0.66</text>
<text x="104.74" y="964.55" font-size="6.87" fill="#3a3a3a" stroke="#3a3a3a" stroke-width="0.30" textLength="36.37" lengthAdjust="spacingAndGlyphs">2013-2014</text>
<text x="168.40" y="813.72" font-size="8.74" fill="#262626" stroke="#262626" stroke-width="0.30" textLength="16.88" lengthAdjust="spacingAndGlyphs">5.28</text>
<text x="147.19" y="964.55" font-size="6.87" fill="#3a3a3a" stroke="#3a3a3a" stroke-width="0.30" textLength="36.37" lengthAdjust="spacingAndGlyphs">2014-2015</text>
<text x="210.71" y="896.04" font-size="8.74" fill="#262626" stroke="#262626" stroke-width="0.30" textLength="12.06" lengthAdjust="spacingAndGlyphs">2.2</text>
<text x="189.59" y="964.55" font-size="6.87" fill="#3a3a3a" stroke="#3a3a3a" stroke-width="0.30" textLength="36.37" lengthAdjust="spacingAndGlyphs">2015-2016</text>
<text x="252.89" y="902.73" font-size="8.74" fill="#262626" stroke="#262626" stroke-width="0.30" textLength="16.88" lengthAdjust="spacingAndGlyphs">1.95</text>
<text x="232.02" y="964.55" font-size="6.87" fill="#3a3a3a" stroke="#3a3a3a" stroke-width="0.30" textLength="36.37" lengthAdjust="spacingAndGlyphs">2016-2017</text>
<polygon points="548.30,738.85 548.30,698.37 594.10,605.16 639.90,656.92 685.70,666.05 731.50,631.96 731.50,738.85" fill="#4f81bd"/>
<rect x="547.80" y="598.20" width="1" height="141.15" fill="#888888"/>
<rect x="544.80" y="738.35" width="3.50" height="1" fill="#888888"/>
<text x="538.65" y="740.80" font-size="6.30" fill="#3a3a3a" stroke="#3a3a3a" stroke-width="0.30" textLength="4.08" lengthAdjust="spacingAndGlyphs">0</text>
<rect x="544.80" y="724.28" width="3.50" height="1" fill="#888888"/>
<text x="534.57" y="726.74" font-size="6.30" fill="#3a3a3a" stroke="#3a3a3a" stroke-width="0.30" textLength="8.16" lengthAdjust="spacingAndGlyphs">10</text>
<rect x="544.80" y="710.22" width="3.50" height="1" fill="#888888"/>
<text x="534.57" y="712.67" font-size="6.30" fill="#3a3a3a" stroke="#3a3a3a" stroke-width="0.30" textLength="8.16" lengthAdjust="spacingAndGlyphs">20</text>
<rect x="544.80" y="696.15" width="3.50" height="1" fill="#888888"/>
<text x="534.57" y="698.61" font-size="6.30" fill="#3a3a3a" stroke="#3a3a3a" stroke-width="0.30" textLength="8.16" lengthAdjust="spacingAndGlyphs">30</text>
<rect x="544.80" y="682.09" width="3.50" height="1" fill="#888888"/>
<text x="534.57" y="684.54" font-size="6.30" fill="#3a3a3a" stroke="#3a3a3a" stroke-width="0.30" textLength="8.16" lengthAdjust="spacingAndGlyphs">40</text>
<rect x="544.80" y="668.02" width="3.50" height="1" fill="#888888"/>
<text x="534.57" y="670.48" font-size="6.30" fill="#3a3a3a" stroke="#3a3a3a" stroke-width="0.30" textLength="8.16" lengthAdjust="spacingAndGlyphs">50</text>
<rect x="544.80" y="653.96" width="3.50" height="1" fill="#888888"/>
<text x="534.57" y="656.41" font-size="6.30" fill="#3a3a3a" stroke="#3a3a3a" stroke-width="0.30" textLength="8.16" lengthAdjust="spacingAndGlyphs">60</text>
<rect x="544.80" y="639.89" width="3.50" height="1" fill="#888888"/>
<text x="534.57" y="642.35" font-size="6.30" fill="#3a3a3a" stroke="#3a3a3a" stroke-width="0.30" textLength="8.16" lengthAdjust="spacingAndGlyphs">70</text>
<rect x="544.80" y="625.83" width="3.50" height="1" fill="#888888"/>
<text x="534.57" y="628.28" font-size="6.30" fill="#3a3a3a" stroke="#3a3a3a" stroke-width="0.30" textLength="8.16" lengthAdjust="spacingAndGlyphs">80</text>
<rect x="544.80" y="611.76" width="3.50" height="1" fill="#888888"/>
<text x="534.57" y="614.22" font-size="6.30" fill="#3a3a3a" stroke="#3a3a3a" stroke-width="0.30" textLength="8.16" lengthAdjust="spacingAndGlyphs">90</text>
<rect x="544.80" y="597.70" width="3.50" height="1" fill="#888888"/>
<text x="530.49" y="600.15" font-size="6.30" fill="#3a3a3a" stroke="#3a3a3a" stroke-width="0.30" textLength="12.25" lengthAdjust="spacingAndGlyphs">100</text>
<rect x="547.80" y="738.35" width="184.20" height="1" fill="#888888"/>
<rect x="547.80" y="738.85" width="1" height="3.50" fill="#888888"/>
<rect x="593.60" y="738.85" width="1" height="3.50" fill="#888888"/>
<rect x="639.40" y="738.85" width="1" height="3.50" fill="#888888"/>
<rect x="685.20" y="738.85" width="1" height="3.50" fill="#888888"/>
<rect x="731.00" y="738.85" width="1" height="3.50" fill="#888888"/>
<text x="537.54" y="720.21" font-size="7.02" fill="#141414" stroke="#141414" stroke-width="0.30" textLength="21.46" lengthAdjust="spacingAndGlyphs">28.78</text>
<text x="530.12" y="749.90" font-size="6.52" fill="#3a3a3a" stroke="#3a3a3a" stroke-width="0.30" textLength="36.32" lengthAdjust="spacingAndGlyphs">2012-2013</text>
<text x="583.35" y="673.61" font-size="7.02" fill="#141414" stroke="#141414" stroke-width="0.30" textLength="21.46" lengthAdjust="spacingAndGlyphs">95.05</text>
<text x="575.86" y="749.90" font-size="6.52" fill="#3a3a3a" stroke="#3a3a3a" stroke-width="0.30" textLength="36.32" lengthAdjust="spacingAndGlyphs">2013-2014</text>
<text x="629.18" y="699.49" font-size="7.02" fill="#141414" stroke="#141414" stroke-width="0.30" textLength="21.46" lengthAdjust="spacingAndGlyphs">58.25</text>
<text x="621.71" y="749.90" font-size="6.52" fill="#3a3a3a" stroke="#3a3a3a" stroke-width="0.30" textLength="36.32" lengthAdjust="spacingAndGlyphs">2014-2015</text>
<text x="674.99" y="704.05" font-size="7.02" fill="#141414" stroke="#141414" stroke-width="0.30" textLength="21.46" lengthAdjust="spacingAndGlyphs">51.76</text>
<text x="667.52" y="749.90" font-size="6.52" fill="#3a3a3a" stroke="#3a3a3a" stroke-width="0.30" textLength="36.32" lengthAdjust="spacingAndGlyphs">2015-2016</text>
<text x="726.70" y="687.00" font-size="7.02" fill="#141414" stroke="#141414" stroke-width="0.30" textLength="9.54" lengthAdjust="spacingAndGlyphs">76</text>
<text x="713.34" y="749.90" font-size="6.52" fill="#3a3a3a" stroke="#3a3a3a" stroke-width="0.30" textLength="36.32" lengthAdjust="spacingAndGlyphs">2016-2017</text>
<polygon points="319.80,954.75 319.80,820.02 365.00,891.03 410.20,912.07 455.40,894.31 500.60,921.67 500.60,954.75" fill="#4f81bd"/>
<rect x="319.30" y="808.83" width="1" height="146.42" fill="#888888"/>
<rect x="316.30" y="954.25" width="3.50" height="1" fill="#888888"/>
<text x="309.97" y="956.85" font-size="7.02" fill="#3a3a3a" stroke="#3a3a3a" stroke-width="0.30" textLength="3.64" lengthAdjust="spacingAndGlyphs">0</text>
<rect x="316.30" y="929.93" width="3.50" height="1" fill="#888888"/>
<text x="310.04" y="932.53" font-size="7.02" fill="#3a3a3a" stroke="#3a3a3a" stroke-width="0.30" textLength="3.64" lengthAdjust="spacingAndGlyphs">2</text>
<rect x="316.30" y="905.61" width="3.50" height="1" fill="#888888"/>
<text x="309.90" y="908.21" font-size="7.02" fill="#3a3a3a" stroke="#3a3a3a" stroke-width="0.30" textLength="3.64" lengthAdjust="spacingAndGlyphs">4</text>
<rect x="316.30" y="881.29" width="3.50" height="1" fill="#888888"/>
<text x="310.00" y="883.89" font-size="7.02" fill="#3a3a3a" stroke="#3a3a3a" stroke-width="0.30" textLength="3.64" lengthAdjust="spacingAndGlyphs">6</text>
<rect x="316.30" y="856.97" width="3.50" height="1" fill="#888888"/>
<text x="310.00" y="859.57" font-size="7.02" fill="#3a3a3a" stroke="#3a3a3a" stroke-width="0.30" textLength="3.64" lengthAdjust="spacingAndGlyphs">8</text>
<rect x="316.30" y="832.65" width="3.50" height="1" fill="#888888"/>
<text x="306.33" y="835.25" font-size="7.02" fill="#3a3a3a" stroke="#3a3a3a" stroke-width="0.30" textLength="7.28" lengthAdjust="spacingAndGlyphs">10</text>
<rect x="316.30" y="808.33" width="3.50" height="1" fill="#888888"/>
<text x="306.40" y="810.93" font-size="7.02" fill="#3a3a3a" stroke="#3a3a3a" stroke-width="0.30" textLength="7.28" lengthAdjust="spacingAndGlyphs">12</text>
<rect x="319.30" y="954.25" width="181.80" height="1" fill="#888888"/>
<rect x="319.30" y="954.75" width="1" height="3.50" fill="#888888"/>
<rect x="364.50" y="954.75" width="1" height="3.50" fill="#888888"/>
<rect x="409.70" y="954.75" width="1" height="3.50" fill="#888888"/>
<rect x="454.90" y="954.75" width="1" height="3.50" fill="#888888"/>
<rect x="500.10" y="954.75" width="1" height="3.50" fill="#888888"/>
<text x="308.72" y="889.28" font-size="9.60" fill="#141414" stroke="#141414" stroke-width="0.30" textLength="21.87" lengthAdjust="spacingAndGlyphs">11.08</text>
<text x="300.65" y="966.85" font-size="7.02" fill="#3a3a3a" stroke="#3a3a3a" stroke-width="0.30" textLength="38.25" lengthAdjust="spacingAndGlyphs">2012-2013</text>
<text x="356.45" y="924.79" font-size="9.60" fill="#141414" stroke="#141414" stroke-width="0.30" textLength="17.01" lengthAdjust="spacingAndGlyphs">5.24</text>
<text x="345.79" y="966.85" font-size="7.02" fill="#3a3a3a" stroke="#3a3a3a" stroke-width="0.30" textLength="38.25" lengthAdjust="spacingAndGlyphs">2013-2014</text>
<text x="401.74" y="935.31" font-size="9.60" fill="#141414" stroke="#141414" stroke-width="0.30" textLength="17.01" lengthAdjust="spacingAndGlyphs">3.51</text>
<text x="391.04" y="966.85" font-size="7.02" fill="#3a3a3a" stroke="#3a3a3a" stroke-width="0.30" textLength="38.25" lengthAdjust="spacingAndGlyphs">2014-2015</text>
<text x="447.02" y="926.43" font-size="9.60" fill="#141414" stroke="#141414" stroke-width="0.30" textLength="17.01" lengthAdjust="spacingAndGlyphs">4.97</text>
<text x="436.25" y="966.85" font-size="7.02" fill="#3a3a3a" stroke="#3a3a3a" stroke-width="0.30" textLength="38.25" lengthAdjust="spacingAndGlyphs">2015-2016</text>
<text x="492.10" y="940.11" font-size="9.60" fill="#141414" stroke="#141414" stroke-width="0.30" textLength="17.01" lengthAdjust="spacingAndGlyphs">2.72</text>
<text x="481.47" y="966.85" font-size="7.02" fill="#3a3a3a" stroke="#3a3a3a" stroke-width="0.30" textLength="38.25" lengthAdjust="spacingAndGlyphs">2016-2017</text>
</svg>
</body></html>
